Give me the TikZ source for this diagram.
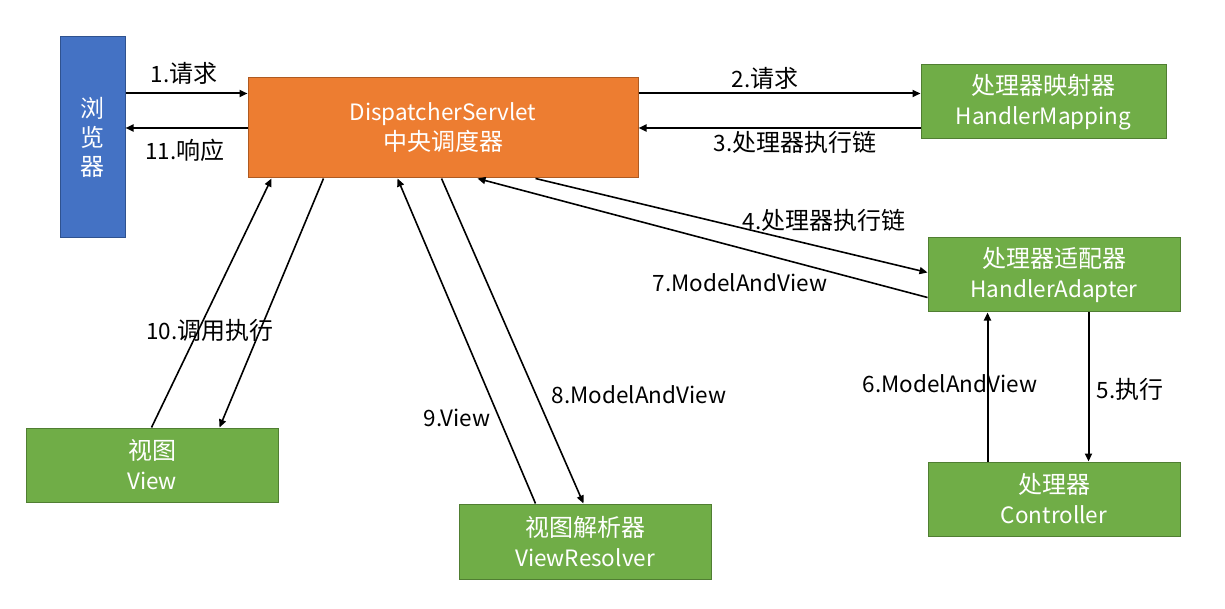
\documentclass[tikz,border=0pt]{standalone}
\usepackage{fontspec}
\setmainfont{Noto Sans CJK SC}
\usetikzlibrary{arrows.meta,calc}
\definecolor{bblue}{HTML}{4472C4}
\definecolor{bbluel}{HTML}{2F528F}
\definecolor{borange}{HTML}{ED7D31}
\definecolor{borangel}{HTML}{AE5A21}
\definecolor{bgreen}{HTML}{70AD47}
\definecolor{bgreenl}{HTML}{507E32}
\newcommand{\zh}[1]{{\fontsize{24}{30}\selectfont #1}}
\tikzset{
  box/.style={draw, line width=1pt, inner sep=0pt, align=center, text=white,
    font=\fontsize{22.5}{30}\selectfont},
  gbox/.style={box, fill=bgreen, draw=bgreenl, minimum width=252pt, minimum height=74pt},
  arr/.style={line width=1.6pt, -{Triangle[length=8pt,width=7pt]}},
  harr/.style={line width=2pt, -{Triangle[length=8pt,width=7pt]}},
  lbl/.style={inner sep=0pt, font=\fontsize{22.5}{26}\selectfont, text=black}
}
\begin{document}
\begin{tikzpicture}[x=1pt,y=-1pt]
\useasboundingbox (0,0) rectangle (1225,609);
\node[box, fill=bblue, draw=bbluel, minimum width=65pt, minimum height=201pt,
  font=\fontsize{24}{29}\selectfont] (br) at (92.5,137.5) {浏\\览\\器};
\node[box, fill=borange, draw=borangel, minimum width=390pt, minimum height=100pt] (ds) at (443,128) {DispatcherServlet\\\zh{中央调度器}};
\node[gbox, minimum width=245pt] (hm) at (1043.5,102) {\zh{处理器映射器}\\HandlerMapping};
\node[gbox] (ha) at (1054,275) {\zh{处理器适配器}\\HandlerAdapter};
\node[gbox] (ctl) at (1054,499) {\zh{处理器}\\Controller};
\node[gbox] (view) at (152,465) {\zh{视图}\\View};
\node[gbox, minimum height=75pt] (vr) at (585,541.5) {\zh{视图解析器}\\ViewResolver};

% browser <-> dispatcher
\coordinate (a1s) at ($(br.north east)+(0,57)$);
\draw[harr] (a1s) -- (ds.west |- a1s);
\draw[harr] (ds.west) -- (br.east |- ds.west);
% dispatcher <-> handler mapping
\coordinate (a2s) at ($(ds.north east)+(0,16)$);
\draw[harr] (a2s) -- (hm.west |- a2s);
\draw[harr] (hm.west |- ds.east) -- (ds.east);
% dispatcher <-> handler adapter
\draw[arr] ($(ds.south west)+(288,0)$) -- ($(ha.north west)+(0,35)$);
\draw[arr] ($(ha.north west)+(0,60)$) -- ($(ds.south west)+(230,0)$);
% handler adapter <-> controller
\coordinate (a6s) at ($(ctl.north west)+(60,0)$);
\draw[harr] (a6s) -- (ha.south -| a6s);
\coordinate (a5s) at ($(ha.south west)+(161,0)$);
\draw[harr] (a5s) -- (ctl.north -| a5s);
% view
\draw[arr] ($(view.north west)+(126,0)$) -- ($(ds.south west)+(24,0)$);
\draw[arr] ($(ds.south west)+(76,0)$) -- ($(view.north west)+(194,0)$);
% view resolver
\draw[arr] ($(vr.north west)+(77,0)$) -- ($(ds.south west)+(150,0)$);
\draw[arr] ($(ds.south west)+(194,0)$) -- ($(vr.north west)+(125,0)$);

% labels
\node[lbl] (l1) at (184,73) {1.\zh{请求}};
\node[lbl] (l11) at (185,150) {11.\zh{响应}};
\node[lbl] (l2) at (765,78) {2.\zh{请求}};
\node[lbl] (l3) at (795,142) {3.\zh{处理器执行链}};
\node[lbl] (l4) at (824,220) {4.\zh{处理器执行链}};
\node[lbl] (l7) at (740,283) {7.ModelAndView};
\node[lbl] (l6) at (950,384) {6.ModelAndView};
\node[lbl] (l5) at (1130,389) {5.\zh{执行}};
\node[lbl] (l10) at (210,330) {10.\zh{调用执行}};
\node[lbl] (l9) at (457,418) {9.View};
\node[lbl] (l8) at (639,395) {8.ModelAndView};
\end{tikzpicture}
\end{document}
